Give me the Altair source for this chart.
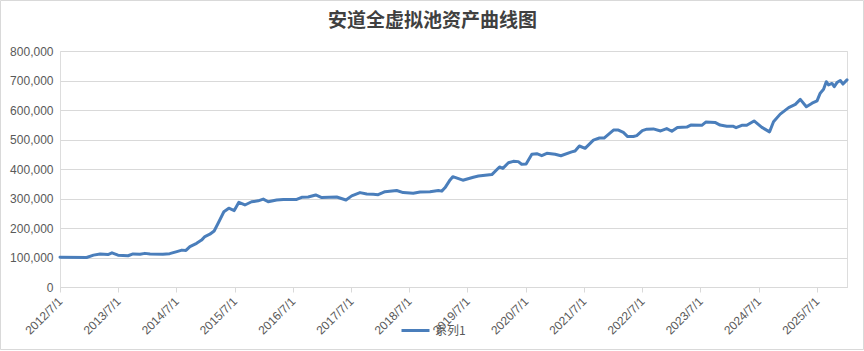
import altair as alt
import pandas as pd

title_text = "安道全虚拟池资产曲线图"
series_name = "系列1"

dates = [
    "2012/07/01", "2012/12/15", "2013/01/27", "2013/03/10", "2013/04/28", "2013/05/23",
    "2013/06/30", "2013/09/01", "2013/10/02", "2013/11/15", "2013/12/16", "2014/01/17",
    "2014/04/07", "2014/05/20", "2014/07/04", "2014/08/05", "2014/08/30", "2014/09/24",
    "2014/11/05", "2014/12/06", "2014/12/27", "2015/01/27", "2015/02/23", "2015/03/20",
    "2015/04/25", "2015/05/26", "2015/06/29", "2015/07/28", "2015/09/04", "2015/10/16",
    "2015/11/26", "2015/12/28", "2016/01/28", "2016/03/21", "2016/05/02", "2016/07/25",
    "2016/08/25", "2016/10/05", "2016/11/21", "2016/12/29", "2017/04/02", "2017/05/30",
    "2017/07/05", "2017/08/26", "2017/10/07", "2017/11/17", "2017/12/18", "2018/01/30",
    "2018/04/13", "2018/05/24", "2018/07/26", "2018/09/07", "2018/11/08", "2018/12/31",
    "2019/01/21", "2019/02/11", "2019/03/14", "2019/03/31", "2019/06/02", "2019/08/07",
    "2019/09/08", "2019/12/01", "2020/01/18", "2020/02/08", "2020/03/14", "2020/04/14",
    "2020/05/15", "2020/06/05", "2020/07/03", "2020/08/08", "2020/09/08", "2020/10/09",
    "2020/11/10", "2021/01/01", "2021/02/06", "2021/04/15", "2021/05/06", "2021/06/02",
    "2021/07/08", "2021/08/29", "2021/10/06", "2021/11/04", "2022/01/02", "2022/02/02",
    "2022/03/05", "2022/04/01", "2022/05/07", "2022/05/28", "2022/07/02", "2022/07/30",
    "2022/09/09", "2022/10/25", "2022/12/02", "2023/01/03", "2023/02/07", "2023/04/07",
    "2023/05/02", "2023/07/10", "2023/08/04", "2023/10/01", "2023/11/02", "2023/12/14",
    "2024/01/21", "2024/02/10", "2024/03/17", "2024/04/17", "2024/06/02", "2024/07/21",
    "2024/09/07", "2024/10/02", "2024/11/13", "2025/01/05", "2025/02/16", "2025/03/19",
    "2025/04/26", "2025/06/01", "2025/07/02", "2025/07/22", "2025/08/12", "2025/08/29",
    "2025/09/12", "2025/10/04", "2025/10/18", "2025/11/04", "2025/11/25", "2025/12/12",
    "2026/01/06",
]

values = [
    101000, 100000, 108000, 112000, 110000, 116000,
    108000, 106000, 112000, 111000, 114000, 112000,
    111000, 113000, 120000, 125000, 124000, 137000,
    148000, 159000, 171000, 179000, 190000, 216000,
    255000, 267000, 259000, 287000, 278000, 289000,
    292000, 298000, 289000, 295000, 297000, 297000,
    304000, 305000, 312000, 303000, 305000, 295000,
    309000, 320000, 315000, 314000, 313000, 323000,
    327000, 320000, 318000, 322000, 323000, 327000,
    325000, 337000, 363000, 374000, 362000, 372000,
    376000, 381000, 407000, 402000, 421000, 426000,
    425000, 416000, 417000, 450000, 452000, 445000,
    453000, 450000, 445000, 458000, 461000, 478000,
    470000, 498000, 505000, 505000, 532000, 532000,
    524000, 510000, 510000, 513000, 530000, 535000,
    536000, 529000, 537000, 528000, 541000, 542000,
    549000, 548000, 559000, 558000, 549000, 545000,
    545000, 540000, 548000, 548000, 563000, 541000,
    526000, 560000, 586000, 608000, 619000, 636000,
    611000, 623000, 631000, 657000, 670000, 696000,
    685000, 690000, 679000, 693000, 700000, 688000,
    702000,
]

tick_years = list(range(2012, 2026))
y_ticks = [0, 100000, 200000, 300000, 400000, 500000, 600000, 700000, 800000]

df = pd.DataFrame({"date": dates, "value": values, "series": [series_name] * len(dates)})

W, H = 787, 236
PAD = {"left": 60, "top": 51, "right": 17, "bottom": 64}

line = alt.Chart(df).mark_line(strokeWidth=3, strokeJoin="round", strokeCap="round").encode(
    x=alt.X(
        "date:T",
        title=None,
        scale=alt.Scale(domain=[alt.DateTime(year=2012, month=7, date=1),
                                alt.DateTime(year=2026, month=1, date=6)]),
        axis=alt.Axis(
            values=[alt.DateTime(year=y, month=7, date=1) for y in tick_years],
            format="%Y/%-m/%-d",
            labelAngle=-45,
            labelAlign="right",
            labelBaseline="middle",
            labelPadding=7,
            grid=False,
            domain=True,
            domainColor="#D9D9D9",
            ticks=True,
            tickSize=5,
            tickColor="#D9D9D9",
            labelColor="#595959",
            labelFontSize=12,
            labelFont="Liberation Sans",
            labelOverlap=False,
        ),
    ),
    y=alt.Y(
        "value:Q",
        title=None,
        scale=alt.Scale(domain=[0, 800000], nice=False),
        axis=alt.Axis(
            values=y_ticks,
            format=",.0f",
            grid=True,
            gridColor="#D9D9D9",
            domain=False,
            ticks=False,
            labelPadding=7,
            labelColor="#595959",
            labelFontSize=12,
            labelFont="Liberation Sans",
        ),
    ),
    color=alt.Color(
        "series:N",
        scale=alt.Scale(range=["#4A7EBB"]),
        legend=alt.Legend(
            title=None,
            orient="none",
            legendX=340,
            legendY=264,
            symbolType="stroke",
            symbolSize=784,
            symbolStrokeWidth=3,
            labelFontSize=12,
            labelColor="#595959",
            labelFont="Noto Sans CJK SC",
            labelOffset=4,
        ),
    ),
)

border = alt.Chart(pd.DataFrame({"a": [0]})).mark_rect(
    fillOpacity=0, stroke="#D9D9D9", strokeWidth=1
).encode(
    x=alt.value(-59.5),
    x2=alt.value(803.5),
    y=alt.value(-50.5),
    y2=alt.value(298.5),
)

chart = alt.layer(line, border).properties(
    width=W,
    height=H,
    padding=PAD,
    autosize=alt.AutoSizeParams(type="none"),
    title=alt.TitleParams(
        text=title_text,
        font="Noto Sans CJK SC",
        fontSize=19,
        fontWeight="bold",
        color="#404040",
        anchor="middle",
        dx=-21,
        offset=-31,
    ),
).configure_view(stroke=None).configure(background="white")

chart.save("out.html", embed_options={"renderer": "svg", "actions": False})
